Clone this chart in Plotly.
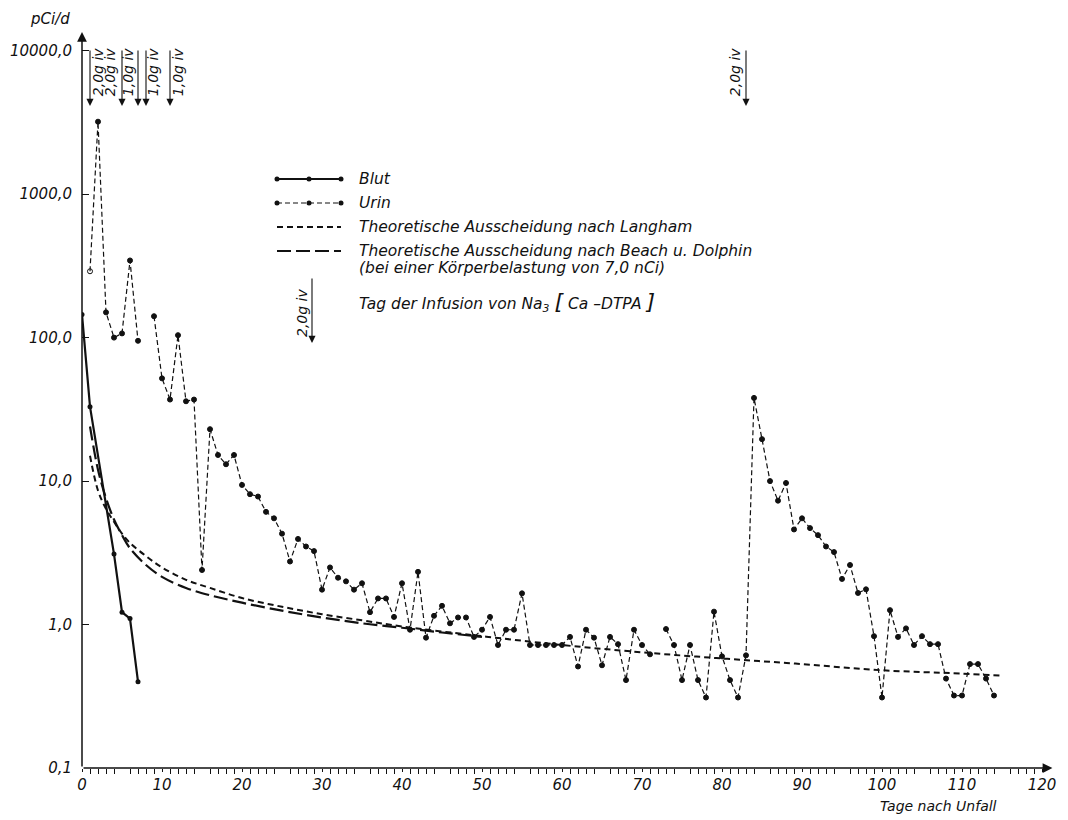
import plotly.graph_objects as go

# ---------------- data ----------------
urine_days = list(range(1, 115))
urine_vals = [
    290, 3200, 150, 100, 107, 345, 95, None, 141, 52,          # 1-10
    37, 104, 36, 37, 2.4, 23, 15.2, 13.1, 15.2, 9.4,           # 11-20
    8.1, 7.8, 6.1, 5.5, 4.3, 2.75, 3.95, 3.5, 3.25, 1.75,      # 21-30
    2.5, 2.12, 2.0, 1.75, 1.94, 1.22, 1.52, 1.52, 1.13, 1.94,  # 31-40
    0.92, 2.33, 0.81, 1.15, 1.35, 1.02, 1.12, 1.12, 0.82, 0.92,  # 41-50
    1.13, 0.72, 0.92, 0.92, 1.65, 0.72, 0.72, 0.72, 0.72, 0.72,  # 51-60
    0.82, 0.51, 0.92, 0.81, 0.52, 0.82, 0.73, 0.41, 0.92, 0.72,  # 61-70
    0.62, None, 0.93, 0.72, 0.41, 0.72, 0.41, 0.31, 1.23, 0.60,  # 71-80
    0.41, 0.31, 0.61, 38, 19.6, 10.0, 7.3, 9.7, 4.6, 5.5,      # 81-90
    4.7, 4.2, 3.5, 3.2, 2.08, 2.6, 1.66, 1.76, 0.83, 0.31,     # 91-100
    1.26, 0.82, 0.94, 0.72, 0.83, 0.73, 0.73, 0.42, 0.32, 0.32,  # 101-110
    0.53, 0.53, 0.42, 0.32,                                    # 111-114
]
blood_days = [0, 1, 4, 5, 6, 7]
blood_vals = [145, 33, 3.1, 1.22, 1.1, 0.40]

langham_days = [1, 2, 3, 4, 5, 6, 8, 10, 13, 16, 20, 25, 30, 35, 40, 50, 60, 70, 80, 90, 100, 110, 115]
langham_vals = [15, 8.6, 6.4, 5.2, 4.3, 3.7, 3.0, 2.5, 2.05, 1.8, 1.53, 1.33, 1.18, 1.07, 0.97,
                0.83, 0.72, 0.64, 0.58, 0.53, 0.48, 0.455, 0.44]

bd_days = [1, 2, 3, 4, 5, 6, 8, 10, 13, 16, 20, 25, 30, 35, 40, 45, 50]
bd_vals = [24, 12, 7.6, 5.4, 4.2, 3.4, 2.6, 2.15, 1.8, 1.6, 1.42, 1.25, 1.12, 1.02, 0.95, 0.88, 0.82]

infusion_days = [1, 5, 7, 8, 11, 83]
infusion_doses = ["2,0", "2,0", "1,0", "1,0", "1,0", "2,0"]

x_tick_vals = list(range(0, 121, 10))
x_tick_text = [str(v) for v in x_tick_vals]
x_mid_ticks = list(range(5, 120, 10))
x_minor_ticks = [v for v in range(1, 120) if v % 5 != 0]
y_tick_vals = [0.1, 1, 10, 100, 1000, 10000]
y_tick_text = ["0,1", "1,0", "10,0", "100,0", "1000,0", "10000,0"]

legend_labels = ["Blut", "Urin", "Theoretische Ausscheidung nach Langham",
                 "Theoretische Ausscheidung nach Beach u. Dolphin"]

# ---------------- layout constants ----------------
OFF = 8                      # page body margin of the written html
W, H = 1060, 812
L, R, T, B = 74, 2, 14, 52
PW, PH = W - L - R, H - T - B
FONT = "DejaVu Sans"
INK = "#111111"
LABEL_OFFSETS = [8, -12, -10, 7, 8, -11]   # px shift of dose labels relative to arrows


def px(X):
    """page pixel x -> paper x"""
    return (X - OFF - L) / PW


def py(Y):
    """page pixel y -> paper y"""
    return (H - B - (Y - OFF)) / PH


def ifont(size):
    return dict(family=FONT, size=size, color=INK, style="italic")


def note(X, Y, text, size, **kw):
    d = dict(x=px(X), y=py(Y), xref="paper", yref="paper", showarrow=False,
             xanchor="center", yanchor="middle", text=text, font=ifont(size))
    d.update(kw)
    return d


fig = go.Figure()

# Blood
fig.add_trace(go.Scatter(
    x=blood_days, y=blood_vals, mode="lines+markers",
    line=dict(color=INK, width=2.2),
    marker=dict(color=INK, size=5), showlegend=False))

# Langham
fig.add_trace(go.Scatter(
    x=langham_days, y=langham_vals, mode="lines", line_shape="spline",
    line=dict(color=INK, width=2, dash="6px,4px"), showlegend=False))

# Beach & Dolphin
fig.add_trace(go.Scatter(
    x=bd_days, y=bd_vals, mode="lines", line_shape="spline",
    line=dict(color=INK, width=2.2, dash="14px,5px"), showlegend=False))

# Urine
symbols = ["circle-open" if d == 1 else "circle" for d in urine_days]
fig.add_trace(go.Scatter(
    x=urine_days, y=urine_vals, mode="lines+markers", connectgaps=False,
    line=dict(color=INK, width=1.2, dash="5px,3px"),
    marker=dict(color=INK, size=5, symbol=symbols, line=dict(color=INK, width=1)),
    showlegend=False))

shapes = []
annotations = []

# axes with arrow heads
annotations.append(dict(x=121.3, y=-1, ax=0, ay=-1, xref="x", yref="y", axref="x", ayref="y",
                        showarrow=True, arrowhead=2, arrowsize=1.3, arrowwidth=1.5,
                        arrowcolor=INK, text=""))
annotations.append(dict(x=0, y=4.13, ax=0, ay=-1, xref="x", yref="y", axref="x", ayref="y",
                        showarrow=True, arrowhead=2, arrowsize=1.3, arrowwidth=1.5,
                        arrowcolor=INK, text=""))

# major x ticks crossing the axis, mid ticks crossing slightly
for v in x_tick_vals:
    shapes.append(dict(type="line", xref="x", yref="y", ysizemode="pixel", yanchor=-1,
                       x0=v, x1=v, y0=-8, y1=10, line=dict(color=INK, width=1.3)))
for v in x_mid_ticks:
    shapes.append(dict(type="line", xref="x", yref="y", ysizemode="pixel", yanchor=-1,
                       x0=v, x1=v, y0=-6, y1=6, line=dict(color=INK, width=1.1)))

# infusion arrows
for d, dose, off in zip(infusion_days, infusion_doses, LABEL_OFFSETS):
    annotations.append(dict(x=d, y=3.615, xref="x", yref="y", ax=0, ay=-57,
                            showarrow=True, arrowhead=2, arrowsize=1.3, arrowwidth=1.1,
                            arrowcolor=INK, text=""))
    annotations.append(dict(x=d, y=3.85, xref="x", yref="y", xshift=off, showarrow=False,
                            xanchor="center", yanchor="middle",
                            text=f"{dose}g iv", textangle=-90, font=ifont(14)))

# axis titles
annotations.append(note(50, 19, "pCi/d", 15))
annotations.append(note(938, 806, "Tage nach Unfall", 14))

# ---------------- manual legend ----------------
row_y = [179, 203, 227, 251]
sx0, sx1 = 277, 341
shapes.append(dict(type="line", xref="paper", yref="paper", x0=px(sx0), x1=px(sx1),
                   y0=py(row_y[0]), y1=py(row_y[0]), line=dict(color=INK, width=2.2)))
shapes.append(dict(type="line", xref="paper", yref="paper", x0=px(sx0), x1=px(sx1),
                   y0=py(row_y[1]), y1=py(row_y[1]), line=dict(color=INK, width=1.2, dash="5px,3px")))
for ry in row_y[:2]:
    for dx in (sx0, (sx0 + sx1) / 2, sx1):
        shapes.append(dict(type="circle", xref="paper", yref="paper", xsizemode="pixel",
                           ysizemode="pixel", xanchor=px(dx), yanchor=py(ry),
                           x0=-2.5, x1=2.5, y0=-2.5, y1=2.5,
                           fillcolor=INK, line=dict(color=INK, width=0)))
shapes.append(dict(type="line", xref="paper", yref="paper", x0=px(sx0), x1=px(sx1),
                   y0=py(row_y[2]), y1=py(row_y[2]), line=dict(color=INK, width=2, dash="6px,4px")))
shapes.append(dict(type="line", xref="paper", yref="paper", x0=px(sx0), x1=px(sx1),
                   y0=py(row_y[3]), y1=py(row_y[3]), line=dict(color=INK, width=2.2, dash="14px,5px")))

for lab, ry in zip(legend_labels, row_y):
    annotations.append(note(357, ry, lab, 15.5, xanchor="left"))
annotations.append(note(357, 268, "(bei einer Körperbelastung von 7,0 nCi)", 15.5, xanchor="left"))
annotations.append(note(357, 302,
                        "Tag der Infusion von Na<sub>3</sub> <span style='font-size:22px'>[</span> "
                        "Ca –DTPA <span style='font-size:22px'>]</span>",
                        15.5, xanchor="left"))
# legend arrow symbol
annotations.append(dict(x=px(312), y=py(343), xref="paper", yref="paper", ax=0, ay=-66,
                        showarrow=True, arrowhead=2, arrowsize=1.3, arrowwidth=1.1,
                        arrowcolor=INK, text=""))
annotations.append(note(302, 313, "2,0g iv", 14, textangle=-90))

fig.update_layout(
    width=W, height=H,
    margin=dict(l=L, r=R, t=T, b=B),
    plot_bgcolor="white", paper_bgcolor="white",
    font=dict(family=FONT, color=INK),
    showlegend=False,
    shapes=shapes, annotations=annotations,
    xaxis=dict(range=[0, 123], showgrid=False, zeroline=False, showline=False,
               tickmode="array", tickvals=x_tick_vals, ticktext=x_tick_text,
               ticks="outside", ticklen=3, tickwidth=1.3, tickcolor=INK,
               tickfont=ifont(15),
               minor=dict(tickmode="array", tickvals=x_minor_ticks, ticks="outside",
                          ticklen=5, tickwidth=1, tickcolor=INK)),
    yaxis=dict(type="log", range=[-1, 4.2], showgrid=False, zeroline=False, showline=False,
               tickmode="array", tickvals=y_tick_vals, ticktext=y_tick_text,
               ticks="inside", ticklen=7, tickwidth=1.3, tickcolor=INK,
               ticklabelstandoff=9, tickfont=ifont(15)),
)

fig.write_html("out.html")
